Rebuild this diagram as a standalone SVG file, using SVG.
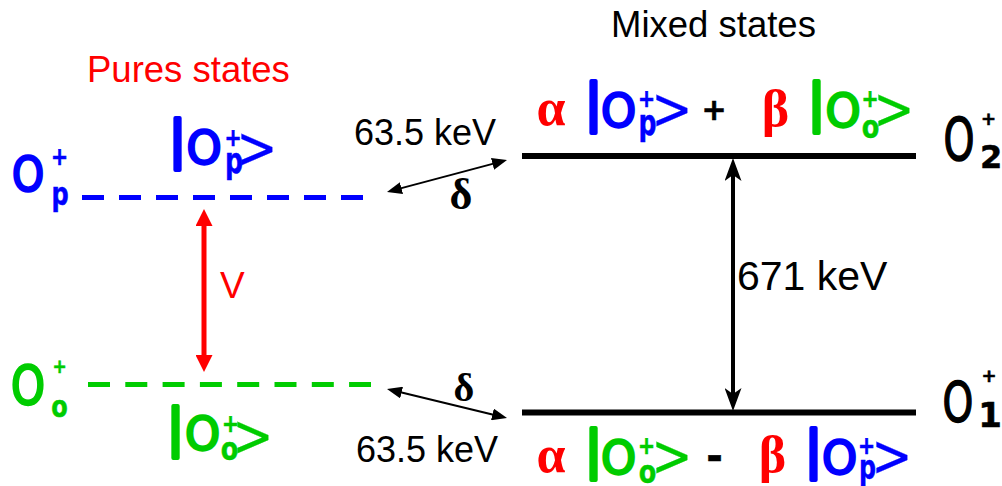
<svg xmlns="http://www.w3.org/2000/svg" width="1002" height="486" viewBox="0 0 1002 486">
<style>
  .lab { font-family: "Liberation Sans", Arial, sans-serif; }
  .blue { fill: #0000ff; stroke: #0000ff; }
  .green { fill: #00cc00; stroke: #00cc00; }
  .blk { fill: #000000; stroke: #000000; }
  .g { font-family: "DejaVu Sans", sans-serif; text-anchor: middle; stroke-width: 0; }
  .gr { font-family: "Liberation Serif", "DejaVu Serif", serif; font-weight: bold; text-anchor: middle; }
  .bar { font-size: 52px; stroke-width: 4px; stroke-linejoin: round; }
  .O { font-size: 47px; stroke-width: 2.5px; }
  .sup { font-size: 24px; font-weight: bold; stroke-width: 0.6px; }
  .subp { font-size: 36px; font-weight: bold; stroke-width: 0.5px; }
  .subo { font-size: 32px; font-weight: bold; stroke-width: 0.5px; }
  .gt { font-size: 58px; stroke-width: 0.2px; }
  .level { stroke: #000; stroke-width: 6; }
</style>
<defs>
  <marker id="mRed" markerUnits="userSpaceOnUse" viewBox="0 0 17 17" markerWidth="17" markerHeight="17" refX="1" refY="8.5" orient="auto-start-reverse">
    <path d="M0,0 L17,8.5 L0,17 Z" fill="#ff0000"/>
  </marker>
  <marker id="mThin" markerUnits="userSpaceOnUse" viewBox="0 0 15 12" markerWidth="15" markerHeight="12" refX="1" refY="6" orient="auto-start-reverse">
    <path d="M0,0 L15,6 L0,12 Z" fill="#000"/>
  </marker>
  <marker id="mStealth" markerUnits="userSpaceOnUse" viewBox="0 0 23 17" markerWidth="23" markerHeight="17" refX="6" refY="8.5" orient="auto-start-reverse">
    <path d="M0,0 L23,8.5 L0,17 L6,8.5 Z" fill="#000"/>
  </marker>
</defs>

<g id="titles">
  <text class="lab" x="611" y="37" font-size="36.5" fill="#000">Mixed states</text>
  <text class="lab" x="87" y="82" font-size="36.5" fill="#ff0000">Pures states</text>
</g>

<g id="level-Op">
  <line x1="82" y1="197.5" x2="365" y2="197.5" stroke="#0000ff" stroke-width="5" stroke-dasharray="22 15"/>
  <text class="g O blue" transform="translate(28,190.5) scale(0.85,1)" style="font-size:48px">O</text>
  <text class="g sup blue" transform="translate(59.5,164.5) scale(0.85,1)">+</text>
  <text class="g subp blue" transform="translate(60,205) scale(0.75,1)" style="font-size:32px">p</text>
</g>

<g id="level-Oo">
  <line x1="88" y1="384.5" x2="371" y2="384.5" stroke="#00cc00" stroke-width="5" stroke-dasharray="22 15.3"/>
  <text class="g O green" transform="translate(28,403.5) scale(0.8,1)" style="font-size:54px">O</text>
  <text class="g sup green" transform="translate(59.5,372.5) scale(0.85,1)" style="font-size:20px">+</text>
  <text class="g subo green" transform="translate(59.5,416.5) scale(0.8,1)" style="font-size:30px">o</text>
</g>

<g id="ket-Op-left" transform="translate(174,117)">
  <text class="g bar blue" transform="translate(3.5,40)">|</text>
  <text class="g O blue" transform="translate(30,46.5) scale(0.95,1)">O</text>
  <text class="g sup blue" transform="translate(59,29) scale(0.85,1)">+</text>
  <text class="g subp blue" transform="translate(60,56) scale(0.7,1)">p</text>
  <text class="g gt blue" transform="translate(83,51) scale(0.85,1)">&gt;</text>
</g>

<g id="ket-Oo-left" transform="translate(172,405)">
  <text class="g bar green" transform="translate(3.5,40)">|</text>
  <text class="g O green" transform="translate(30.5,44.5) scale(0.95,1)">O</text>
  <text class="g sup green" transform="translate(58.5,27) scale(0.85,1)">+</text>
  <text class="g subo green" transform="translate(57.5,55) scale(0.8,1)">o</text>
  <text class="g gt green" transform="translate(81,51) scale(0.85,1)">&gt;</text>
</g>

<g id="coupling-V">
  <line x1="204" y1="225" x2="204" y2="356" stroke="#ff0000" stroke-width="5" marker-start="url(#mRed)" marker-end="url(#mRed)"/>
  <text class="lab" x="220" y="298" font-size="37" fill="#ff0000">V</text>
</g>

<g id="level-O2">
  <line class="level" x1="522" y1="156" x2="916" y2="156"/>
  <text class="g O blk" transform="translate(959,159.5) scale(0.68,1)" style="font-size:58px;stroke-width:1.5px">O</text>
  <text class="g sup blk" transform="translate(988.5,124.5)" style="font-size:18px">+</text>
  <text class="g subo blk" transform="translate(991,168)">2</text>
  <text class="gr" x="551" y="125" font-size="52" fill="#ff0000">α</text>
  <g transform="translate(590,80)">
    <text class="g bar blue" transform="translate(3.5,40)">|</text>
    <text class="g O blue" transform="translate(28.5,46.5) scale(0.95,1)">O</text>
    <text class="g sup blue" transform="translate(56.5,27) scale(0.85,1)">+</text>
    <text class="g subp blue" transform="translate(57.5,55) scale(0.7,1)">p</text>
    <text class="g gt blue" transform="translate(82,49) scale(0.85,1)">&gt;</text>
  </g>
  <text class="g sup blk" transform="translate(714,120)" style="font-size:30px">+</text>
  <text class="gr" x="775.5" y="126" font-size="52" fill="#ff0000">β</text>
  <g transform="translate(813,80)">
    <text class="g bar green" transform="translate(3.5,40)">|</text>
    <text class="g O green" transform="translate(30,46.5) scale(0.95,1)">O</text>
    <text class="g sup green" transform="translate(57,27) scale(0.85,1)">+</text>
    <text class="g subo green" transform="translate(57.5,58) scale(0.8,1)">o</text>
    <text class="g gt green" transform="translate(81,49) scale(0.85,1)">&gt;</text>
  </g>
</g>

<g id="level-O1">
  <line class="level" x1="522" y1="412.5" x2="916" y2="412.5"/>
  <text class="g O blk" transform="translate(958,421) scale(0.7,1)" style="font-size:56px;stroke-width:1.5px">O</text>
  <text class="g sup blk" transform="translate(989,381.5)" style="font-size:18px">+</text>
  <text class="g subo blk" transform="translate(990,427)" style="font-size:34px">1</text>
  <text class="gr" x="551" y="472" font-size="52" fill="#ff0000">α</text>
  <g transform="translate(590,427)">
    <text class="g bar green" transform="translate(3.5,40)">|</text>
    <text class="g O green" transform="translate(28.5,46.5) scale(0.95,1)">O</text>
    <text class="g sup green" transform="translate(56.5,27) scale(0.85,1)">+</text>
    <text class="g subo green" transform="translate(57.5,56) scale(0.8,1)">o</text>
    <text class="g gt green" transform="translate(82,49) scale(0.85,1)">&gt;</text>
  </g>
  <text class="g subp blk" transform="translate(714.5,470)" style="font-size:40px">-</text>
  <text class="gr" x="772.5" y="472" font-size="52" fill="#ff0000">β</text>
  <g transform="translate(810,427)">
    <text class="g bar blue" transform="translate(3.5,40)">|</text>
    <text class="g O blue" transform="translate(29.5,46.5) scale(0.95,1)">O</text>
    <text class="g sup blue" transform="translate(56.5,27) scale(0.85,1)">+</text>
    <text class="g subp blue" transform="translate(57.5,52) scale(0.7,1)" style="font-size:34px">p</text>
    <text class="g gt blue" transform="translate(82,49) scale(0.85,1)">&gt;</text>
  </g>
</g>

<g id="connectors">
  <line x1="400.5" y1="188.4" x2="493.5" y2="163.6" stroke="#000" stroke-width="2" marker-start="url(#mThin)" marker-end="url(#mThin)"/>
  <line x1="400.6" y1="392.3" x2="493.4" y2="414.7" stroke="#000" stroke-width="2" marker-start="url(#mThin)" marker-end="url(#mThin)"/>
  <line x1="733" y1="175" x2="733" y2="394" stroke="#000" stroke-width="4" marker-start="url(#mStealth)" marker-end="url(#mStealth)"/>
</g>

<g id="labels">
  <text class="lab" x="354" y="145" font-size="36">63.5 keV</text>
  <text class="gr" x="461" y="209" font-size="44">δ</text>
  <text class="gr" x="464" y="401" font-size="40">δ</text>
  <text class="lab" x="356" y="462" font-size="36">63.5 keV</text>
  <text class="lab" x="737" y="290" font-size="41">671 keV</text>
</g>
</svg>
